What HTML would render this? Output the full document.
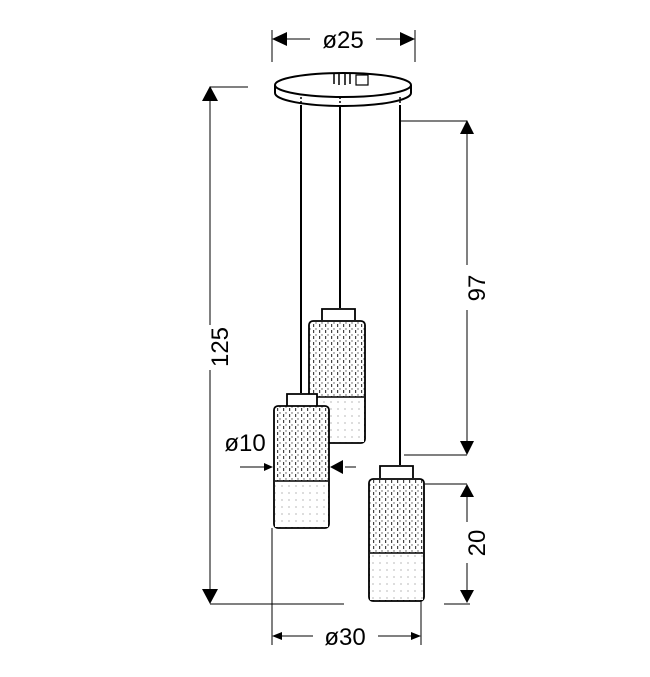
<!DOCTYPE html>
<html><head><meta charset="utf-8"><style>
html,body{margin:0;padding:0;background:#fff;}
svg{display:block;}
text{font-family:"Liberation Sans",sans-serif;fill:#000;}
</style></head><body>
<svg width="650" height="677" viewBox="0 0 650 677" xmlns="http://www.w3.org/2000/svg">
<defs>
<pattern id="dots" width="6" height="6" patternUnits="userSpaceOnUse">
<rect width="6" height="6" fill="#fff"/>
<rect x="1" y="0" width="1.2" height="3" fill="#444"/><circle cx="4" cy="5" r="0.7" fill="#555"/>
</pattern>
<pattern id="dots2" width="7" height="7" patternUnits="userSpaceOnUse">
<rect width="7" height="7" fill="#fff"/>
<circle cx="2" cy="3" r="0.6" fill="#888"/>
</pattern>
</defs>
<g stroke="#000" stroke-width="1" fill="none">
<line x1="272" y1="30" x2="272" y2="62"/><line x1="415" y1="30" x2="415" y2="62"/>
<line x1="285" y1="39" x2="310" y2="39"/><line x1="376" y1="39" x2="402" y2="39"/>
<line x1="210" y1="100" x2="210" y2="325"/><line x1="210" y1="370" x2="210" y2="590"/>
<line x1="210" y1="87" x2="248" y2="87"/>
<line x1="210" y1="604" x2="344" y2="604"/><line x1="444" y1="604" x2="470" y2="604"/>
<line x1="400" y1="121" x2="467" y2="121"/><line x1="404" y1="455" x2="467" y2="455"/>
<line x1="467" y1="133" x2="467" y2="265"/><line x1="467" y1="310" x2="467" y2="443"/>
<line x1="425" y1="484" x2="467" y2="484"/>
<line x1="467" y1="496" x2="467" y2="522"/><line x1="467" y1="563" x2="467" y2="591"/>
<line x1="272" y1="528" x2="272" y2="645"/><line x1="421" y1="601" x2="421" y2="645"/>
<line x1="280" y1="636" x2="313" y2="636"/><line x1="378" y1="636" x2="413" y2="636"/>
<line x1="240" y1="467" x2="268" y2="467"/><line x1="345" y1="467" x2="356" y2="467"/>
</g>
<g fill="#000">
<polygon points="272,39 287,32 287,46"/><polygon points="415,39 400,32 400,46"/>
<polygon points="210,86 202,101 218,101"/><polygon points="210,604 202,589 218,589"/>
<polygon points="467,120 460,134 474,134"/><polygon points="467,455 460,441 474,441"/>
<polygon points="467,484 460,497 474,497"/><polygon points="467,603 460,590 474,590"/>
<polygon points="272,636 282,632 282,640"/><polygon points="421,636 411,632 411,640"/>
<polygon points="273,467 264,463 264,471"/><polygon points="330,467 343,460 343,474"/>
</g>
<!-- canopy -->
<g stroke="#000" stroke-width="2" fill="#fff">
<path d="M275,85 L275,93 A68,13 0 0 0 411,93 L411,85"/>
<ellipse cx="343" cy="85" rx="68" ry="12"/>
</g>
<g stroke="#000" stroke-width="1.5" fill="none">
<line x1="334" y1="74" x2="334" y2="84"/><line x1="339" y1="74" x2="339" y2="85"/><line x1="345" y1="74" x2="345" y2="85"/><line x1="350" y1="74" x2="350" y2="84"/>
<rect x="356" y="75" width="12" height="10" stroke-width="1.2"/>
<line x1="301" y1="97" x2="301" y2="106" stroke-dasharray="2 2"/>
<line x1="340" y1="97" x2="340" y2="107" stroke-dasharray="2 2"/>
<line x1="400" y1="97" x2="400" y2="106" stroke-dasharray="2 2"/>
</g>
<g stroke="#000" stroke-width="2">
<line x1="301" y1="105" x2="301" y2="393"/>
<line x1="340" y1="107" x2="340" y2="308"/>
<line x1="400" y1="105" x2="400" y2="465"/>
</g>
<g stroke="#000" stroke-width="1.8">
<path d="M322,320 V309 H355 V320" fill="#fff"/>
<rect x="309" y="321" width="56" height="122" fill="url(#dots)" rx="4"/>
<rect x="310" y="397" width="54" height="45" fill="url(#dots2)" stroke="none"/>
<line x1="310" y1="397" x2="364" y2="397" stroke-width="1.5"/>
<path d="M287,406 V394 H317 V406" fill="#fff"/>
<rect x="274" y="406" width="55" height="122" fill="url(#dots)" rx="4"/>
<rect x="275" y="481" width="53" height="46" fill="url(#dots2)" stroke="none"/>
<line x1="275" y1="481" x2="328" y2="481" stroke-width="1.5"/>
<path d="M380,478 V466 H413 V478" fill="#fff"/>
<rect x="369" y="479" width="55" height="122" fill="url(#dots)" rx="4"/>
<rect x="370" y="553" width="53" height="47" fill="url(#dots2)" stroke="none"/>
<line x1="370" y1="553" x2="423" y2="553" stroke-width="1.5"/>
</g>
<text x="343" y="48" font-size="24" text-anchor="middle">ø25</text>
<text x="245" y="451" font-size="24" text-anchor="middle">ø10</text>
<text x="345" y="645" font-size="24" text-anchor="middle">ø30</text>
<text transform="translate(228,347) rotate(-90)" font-size="24" text-anchor="middle">125</text>
<text transform="translate(485,288) rotate(-90)" font-size="24" text-anchor="middle">97</text>
<text transform="translate(485,543) rotate(-90)" font-size="24" text-anchor="middle">20</text>
</svg>
</body></html>
